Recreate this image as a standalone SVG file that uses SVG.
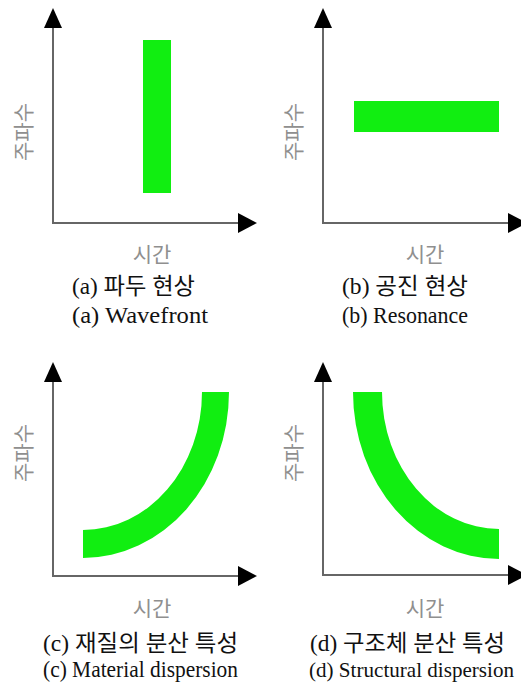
<svg xmlns="http://www.w3.org/2000/svg" width="521" height="685" viewBox="0 0 521 685">
<style>
.ax{stroke:#666;stroke-width:2;fill:none}
.ah{fill:#000}
.band{fill:#11ee11}
.al{font-family:"Noto Sans CJK KR","Noto Sans",sans-serif;font-size:21px;fill:#8f8f8f}
.cap{font-family:"Liberation Serif","Noto Sans CJK KR",serif;font-size:22.5px;fill:#111}
</style>
<rect width="521" height="685" fill="#fff"/>
<g id="connectors">
  <line class="ax" x1="53" y1="26" x2="53" y2="223"/>
  <line class="ax" x1="52" y1="223" x2="240" y2="223"/>
  <polygon class="ah" points="53,8 44,28 62,28"/>
  <polygon class="ah" points="257,223 238,213 238,233"/>
  <line class="ax" x1="323" y1="26" x2="323" y2="223"/>
  <line class="ax" x1="322" y1="223" x2="510" y2="223"/>
  <polygon class="ah" points="323,8 314,28 332,28"/>
  <polygon class="ah" points="527,223 508,213 508,233"/>
  <line class="ax" x1="53" y1="381" x2="53" y2="576"/>
  <line class="ax" x1="52" y1="576" x2="240" y2="576"/>
  <polygon class="ah" points="53,362 44,382 62,382"/>
  <polygon class="ah" points="257,576 238,566 238,586"/>
  <line class="ax" x1="323" y1="381" x2="323" y2="575"/>
  <line class="ax" x1="322" y1="575" x2="510" y2="575"/>
  <polygon class="ah" points="323,362 314,382 332,382"/>
  <polygon class="ah" points="527,575 508,565 508,585"/>
</g>
<g id="panel-a">
  <rect class="band" x="143" y="40" width="28" height="153"/>
  <text class="al" transform="translate(22,132) rotate(-90)" text-anchor="middle" dominant-baseline="central">주파수</text>
  <text class="al" x="152" y="262" text-anchor="middle">시간</text>
  <text class="cap" x="72" y="294" textLength="123" lengthAdjust="spacingAndGlyphs">(a) 파두 현상</text>
  <text class="cap" x="72" y="323" textLength="136" lengthAdjust="spacingAndGlyphs">(a) Wavefront</text>
</g>
<g id="panel-b">
  <rect class="band" x="354" y="101" width="145" height="31"/>
  <text class="al" transform="translate(292,132) rotate(-90)" text-anchor="middle" dominant-baseline="central">주파수</text>
  <text class="al" x="425" y="262" text-anchor="middle">시간</text>
  <text class="cap" x="342" y="294" textLength="126" lengthAdjust="spacingAndGlyphs">(b) 공진 현상</text>
  <text class="cap" x="342" y="323" textLength="126" lengthAdjust="spacingAndGlyphs">(b) Resonance</text>
</g>
<g id="panel-c">
  <path class="band" d="M83 530 A119 138 0 0 0 202 392 L229 392 A146 166 0 0 1 83 558 Z"/>
  <text class="al" transform="translate(22,453) rotate(-90)" text-anchor="middle" dominant-baseline="central">주파수</text>
  <text class="al" x="152" y="616" text-anchor="middle">시간</text>
  <text class="cap" x="43" y="651" textLength="195" lengthAdjust="spacingAndGlyphs">(c) 재질의 분산 특성</text>
  <text class="cap" x="43" y="677" textLength="195" lengthAdjust="spacingAndGlyphs">(c) Material dispersion</text>
</g>
<g id="panel-d">
  <path class="band" d="M353 392 L382 392 A117 137 0 0 0 499 529 L499 559 A146 167 0 0 1 353 392 Z"/>
  <text class="al" transform="translate(292,453) rotate(-90)" text-anchor="middle" dominant-baseline="central">주파수</text>
  <text class="al" x="425" y="616" text-anchor="middle">시간</text>
  <text class="cap" x="310" y="651" textLength="195" lengthAdjust="spacingAndGlyphs">(d) 구조체 분산 특성</text>
  <text class="cap" x="309" y="677" style="font-size:21px" textLength="205" lengthAdjust="spacingAndGlyphs">(d) Structural dispersion</text>
</g>
</svg>
